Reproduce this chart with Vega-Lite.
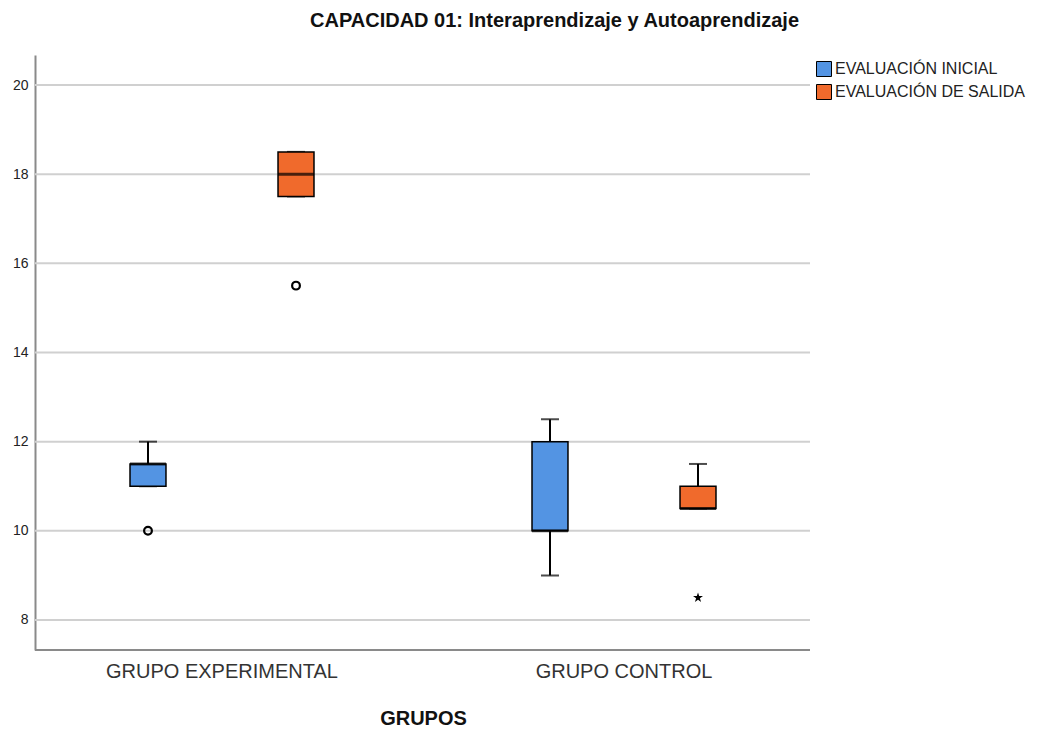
{
  "$schema": "https://vega.github.io/schema/vega-lite/v6.json",
  "width": 775,
  "height": 595,
  "autosize": {"type": "none"},
  "padding": {"left": 35, "top": 55, "right": 233, "bottom": 81},
  "background": "white",
  "title": {
    "text": "CAPACIDAD 01: Interaprendizaje y Autoaprendizaje",
    "anchor": "middle",
    "dx": 132,
    "offset": 24,
    "font": "Liberation Sans",
    "fontSize": 20,
    "fontWeight": "bold",
    "color": "#111"
  },
  "config": {
    "view": {"stroke": null},
    "font": "Liberation Sans"
  },
  "datasets": {
    "cajas": [
      {"grupo": "GRUPO EXPERIMENTAL", "evaluacion": "EVALUACIÓN INICIAL", "min": 11, "q1": 11, "median": 11.5, "q3": 11.5, "max": 12},
      {"grupo": "GRUPO EXPERIMENTAL", "evaluacion": "EVALUACIÓN DE SALIDA", "min": 17.5, "q1": 17.5, "median": 18, "q3": 18.5, "max": 18.5},
      {"grupo": "GRUPO CONTROL", "evaluacion": "EVALUACIÓN INICIAL", "min": 9, "q1": 10, "median": 10, "q3": 12, "max": 12.5},
      {"grupo": "GRUPO CONTROL", "evaluacion": "EVALUACIÓN DE SALIDA", "min": 10.5, "q1": 10.5, "median": 10.5, "q3": 11, "max": 11.5}
    ],
    "atipicos": [
      {"grupo": "GRUPO EXPERIMENTAL", "evaluacion": "EVALUACIÓN INICIAL", "valor": 10, "tipo": "atipico"},
      {"grupo": "GRUPO EXPERIMENTAL", "evaluacion": "EVALUACIÓN DE SALIDA", "valor": 15.5, "tipo": "atipico"},
      {"grupo": "GRUPO CONTROL", "evaluacion": "EVALUACIÓN DE SALIDA", "valor": 8.5, "tipo": "extremo"}
    ],
    "rejilla": [{"y": 8}, {"y": 10}, {"y": 12}, {"y": 14}, {"y": 16}, {"y": 18}, {"y": 20}],
    "base": [{"y": 7.327}]
  },
  "encoding": {
    "x": {
      "field": "grupo",
      "type": "nominal",
      "scale": {"domain": ["GRUPO EXPERIMENTAL", "GRUPO CONTROL"], "range": [-14, 790], "paddingInner": 0, "paddingOuter": 0},
      "axis": {
        "title": "GRUPOS",
        "titleFont": "Liberation Sans",
        "titleFontSize": 20,
        "titleFontWeight": "bold",
        "titleColor": "#111",
        "titlePadding": 27,
        "labelFont": "Liberation Sans",
        "labelFontSize": 20,
        "labelColor": "#333",
        "labelPadding": 11,
        "labelAngle": 0,
        "labelLimit": 0,
        "domain": false,
        "ticks": false,
        "grid": false
      }
    },
    "xOffset": {
      "field": "evaluacion",
      "type": "nominal",
      "scale": {"domain": ["EVALUACIÓN INICIAL", "EVALUACIÓN DE SALIDA"], "paddingInner": 0.757, "paddingOuter": 0.7365}
    }
  },
  "layer": [
    {
      "data": {"name": "rejilla"},
      "mark": {"type": "rule", "color": "#d0d0d0", "strokeWidth": 2},
      "encoding": {"x": null, "xOffset": null, "y": {"field": "y", "type": "quantitative"}}
    },
    {
      "data": {"name": "base"},
      "mark": {"type": "rule", "color": "#8a8a8a", "strokeWidth": 2},
      "encoding": {"x": null, "xOffset": null, "y": {"field": "y", "type": "quantitative"}}
    },
    {
      "data": {"name": "cajas"},
      "mark": {"type": "rule", "color": "black", "strokeWidth": 2},
      "encoding": {
        "y": {
          "field": "min",
          "type": "quantitative",
          "scale": {"domain": [7.327, 20.673], "nice": false, "zero": false},
          "axis": {
            "title": null,
            "values": [8, 10, 12, 14, 16, 18, 20],
            "grid": false,
            "domain": true,
            "domainColor": "#8a8a8a",
            "domainWidth": 2,
            "ticks": false,
            "labelFont": "Liberation Sans",
            "labelFontSize": 14,
            "labelColor": "#222",
            "labelPadding": 7
          }
        },
        "y2": {"field": "q1"}
      }
    },
    {
      "data": {"name": "cajas"},
      "mark": {"type": "rule", "color": "black", "strokeWidth": 2},
      "encoding": {
        "y": {"field": "q3", "type": "quantitative"},
        "y2": {"field": "max"}
      }
    },
    {
      "data": {"name": "cajas"},
      "mark": {"type": "tick", "color": "black", "size": 18, "thickness": 2},
      "encoding": {"y": {"field": "max", "type": "quantitative"}}
    },
    {
      "data": {"name": "cajas"},
      "mark": {"type": "tick", "color": "black", "size": 18, "thickness": 2},
      "encoding": {"y": {"field": "min", "type": "quantitative"}}
    },
    {
      "data": {"name": "cajas"},
      "mark": {"type": "bar", "stroke": "black", "strokeWidth": 1.5, "opacity": 1},
      "encoding": {
        "y": {"field": "q1", "type": "quantitative"},
        "y2": {"field": "q3"},
        "color": {
          "field": "evaluacion",
          "type": "nominal",
          "scale": {"domain": ["EVALUACIÓN INICIAL", "EVALUACIÓN DE SALIDA"], "range": ["#5394E3", "#F06A2C"]},
          "legend": {
            "title": null,
            "orient": "right",
            "offset": 0,
            "symbolType": "square",
            "symbolSize": 225,
            "symbolStrokeColor": "black",
            "symbolStrokeWidth": 1,
            "symbolOpacity": 1,
            "labelFont": "Liberation Sans",
            "labelFontSize": 16,
            "labelColor": "#222",
            "labelOffset": 3,
            "labelLimit": 0,
            "rowPadding": 3,
            "padding": 6
          }
        }
      }
    },
    {
      "data": {"name": "cajas"},
      "mark": {"type": "tick", "color": "black", "size": 36, "thickness": 3},
      "encoding": {"y": {"field": "median", "type": "quantitative"}}
    },
    {
      "data": {"name": "atipicos"},
      "transform": [{"filter": "datum.tipo == 'atipico'"}],
      "mark": {"type": "point", "shape": "circle", "filled": false, "color": "black", "strokeWidth": 2.2, "size": 60, "opacity": 1},
      "encoding": {"y": {"field": "valor", "type": "quantitative"}}
    },
    {
      "data": {"name": "atipicos"},
      "transform": [{"filter": "datum.tipo == 'extremo'"}],
      "mark": {"type": "point", "shape": "M0,-1L0.2245,-0.309L0.951,-0.309L0.363,0.118L0.588,0.809L0,0.382L-0.588,0.809L-0.363,0.118L-0.951,-0.309L-0.2245,-0.309Z", "filled": true, "color": "black", "size": 110, "opacity": 1},
      "encoding": {"y": {"field": "valor", "type": "quantitative"}}
    }
  ]
}
